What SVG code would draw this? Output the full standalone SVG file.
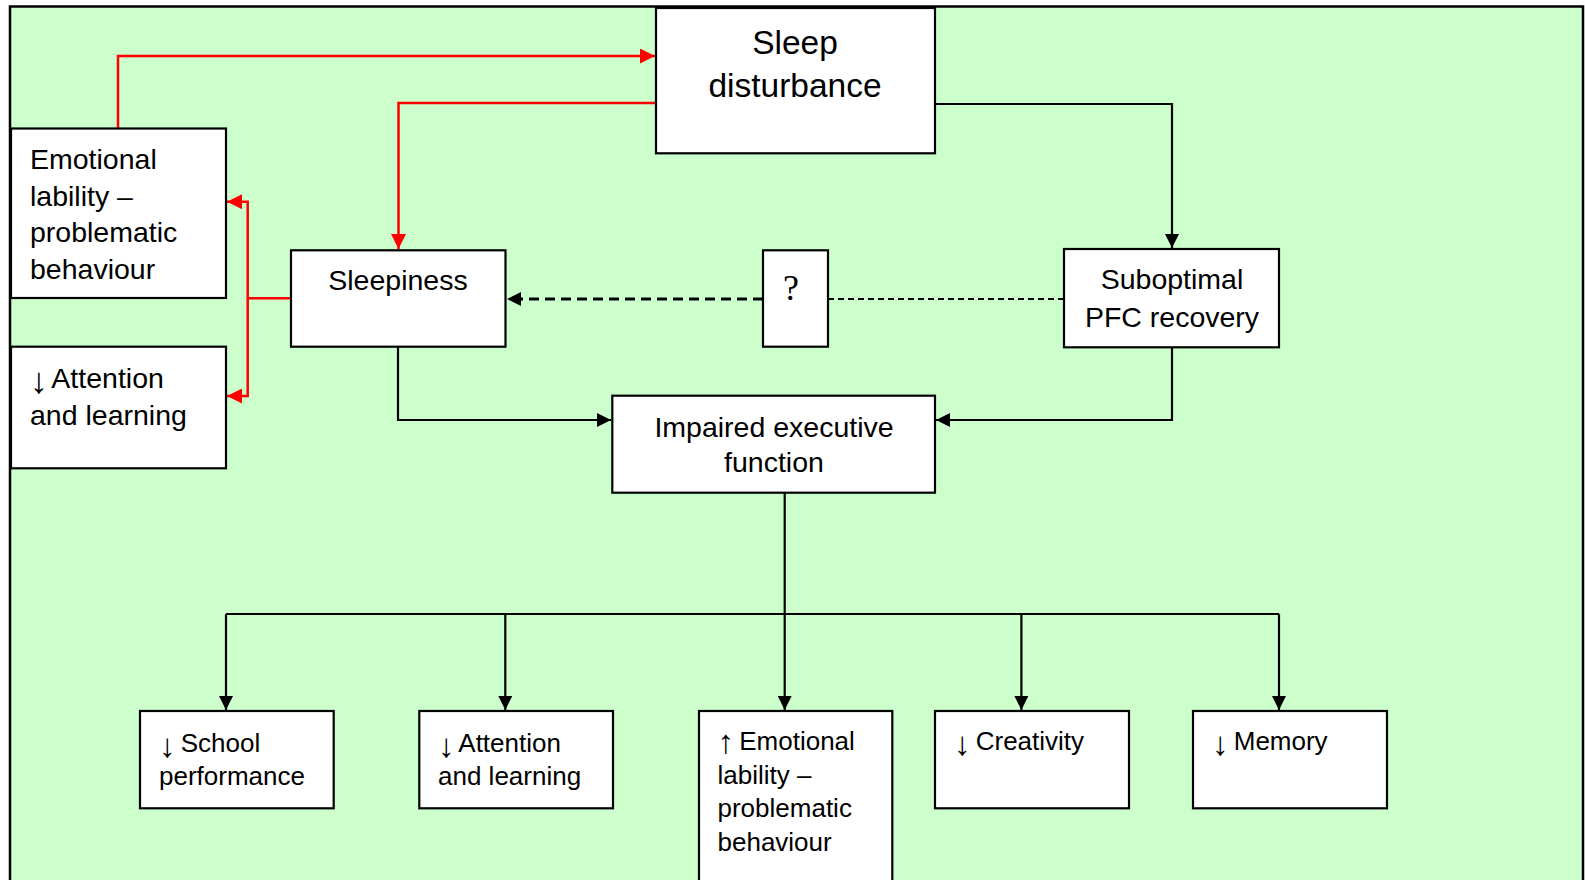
<svg xmlns="http://www.w3.org/2000/svg" width="1585" height="880" viewBox="0 0 1585 880">
<style>
.box{fill:#ffffff;stroke:#000000;stroke-width:2.2}
.t{font-family:"Liberation Sans",Arial,sans-serif;font-size:28.5px;fill:#000000}
.tb{font-family:"Liberation Sans",Arial,sans-serif;font-size:33.5px;fill:#000000}
.ts{font-family:"Liberation Sans",Arial,sans-serif;font-size:26px;fill:#000000}
.q{font-family:"Liberation Serif","Times New Roman",serif;font-size:36px;fill:#000000}
.ar{font-family:"Liberation Serif","Times New Roman",serif}
.c{text-anchor:middle}
.blk{fill:none;stroke:#000000;stroke-width:2.2}
.red{fill:none;stroke:#ff0000;stroke-width:2.5}
.dash{fill:none;stroke:#000000;stroke-width:3;stroke-dasharray:10 6}
.dot{fill:none;stroke:#000000;stroke-width:2;stroke-dasharray:6 4}
</style>
<defs>
<marker id="ab" markerUnits="userSpaceOnUse" markerWidth="14" markerHeight="14" refX="14" refY="7" orient="auto">
<path d="M0,0 L14,7 L0,14 z" fill="#000000"/>
</marker>
<marker id="ar" markerUnits="userSpaceOnUse" markerWidth="15" markerHeight="15" refX="15" refY="7.5" orient="auto">
<path d="M0,0 L15,7.5 L0,15 z" fill="#ff0000"/>
</marker>
</defs>
<rect x="0" y="0" width="1585" height="880" fill="#ffffff"/>
<rect x="10" y="6.5" width="1573" height="880" fill="#ccffcc" stroke="#000000" stroke-width="2.5"/>
<g id="connectors">
<path class="red" d="M118,128 V56 H655" marker-end="url(#ar)"/>
<path class="red" d="M656,103 H398.5 V249" marker-end="url(#ar)"/>
<path class="red" d="M291,298.3 H247.7"/>
<path class="red" d="M247.7,298.3 V201.7 H227" marker-end="url(#ar)"/>
<path class="red" d="M247.7,298.3 V396 H227" marker-end="url(#ar)"/>
<path class="blk" d="M935,104 H1172 V248" marker-end="url(#ab)"/>
<path class="dash" d="M763,299 H507" marker-end="url(#ab)"/>
<path class="dot" d="M1064,299 H828"/>
<path class="blk" d="M398,347 V420 H611" marker-end="url(#ab)"/>
<path class="blk" d="M1172,347 V420 H936" marker-end="url(#ab)"/>
<path class="blk" d="M784.7,493 V710" marker-end="url(#ab)"/>
<path class="blk" d="M226,614 H1279"/>
<path class="blk" d="M226,614 V710" marker-end="url(#ab)"/>
<path class="blk" d="M505.3,614 V710" marker-end="url(#ab)"/>
<path class="blk" d="M1021.4,614 V710" marker-end="url(#ab)"/>
<path class="blk" d="M1279,614 V710" marker-end="url(#ab)"/>
</g>
<g id="sleep-disturbance">
<rect class="box" x="656" y="8" width="279" height="145.3"/>
<text class="tb c" x="795" y="54">Sleep</text>
<text class="tb c" x="795" y="97">disturbance</text>
</g>
<g id="emotional-lability-left">
<rect class="box" x="11" y="128.5" width="215" height="169.5"/>
<text class="t" x="30" y="169">Emotional</text>
<text class="t" x="30" y="205.5">lability –</text>
<text class="t" x="30" y="242">problematic</text>
<text class="t" x="30" y="278.5">behaviour</text>
</g>
<g id="attention-left">
<rect class="box" x="11" y="346.7" width="215" height="121.6"/>
<text class="t" x="30" y="388"><tspan class="ar" font-size="36" dy="5">↓</tspan><tspan dy="-5" dx="-3"> Attention</tspan></text>
<text class="t" x="30" y="425">and learning</text>
</g>
<g id="sleepiness">
<rect class="box" x="291" y="250.3" width="214.5" height="96.4"/>
<text class="t c" x="398" y="290">Sleepiness</text>
</g>
<g id="question">
<rect class="box" x="763" y="250.3" width="65" height="96.4"/>
<text class="q c" x="791" y="300">?</text>
</g>
<g id="suboptimal-pfc">
<rect class="box" x="1064" y="249" width="215" height="98.3"/>
<text class="t c" x="1172" y="289.3">Suboptimal</text>
<text class="t c" x="1172" y="326.7">PFC recovery</text>
</g>
<g id="impaired-executive">
<rect class="box" x="612.3" y="395.7" width="322.7" height="97"/>
<text class="t c" x="774" y="436.7">Impaired executive</text>
<text class="t c" x="774" y="472.3">function</text>
</g>
<g id="school">
<rect class="box" x="140" y="711" width="193.7" height="97.3"/>
<text class="ts" x="159" y="751.7"><tspan class="ar" font-size="33" dy="5">↓</tspan><tspan dy="-5" dx="-2"> School</tspan></text>
<text class="ts" x="159" y="785">performance</text>
</g>
<g id="attention-bottom">
<rect class="box" x="419.3" y="711" width="193.7" height="97.3"/>
<text class="ts" x="438" y="751.7"><tspan class="ar" font-size="33" dy="5">↓</tspan><tspan dy="-5" dx="-2"> Attention</tspan></text>
<text class="ts" x="438" y="785">and learning</text>
</g>
<g id="emotional-bottom">
<rect class="box" x="699" y="711" width="193.3" height="180"/>
<text class="ts" x="717.5" y="749.5"><tspan class="ar" font-size="33" dy="3">↑</tspan><tspan dy="-3" dx="-2"> Emotional</tspan></text>
<text class="ts" x="717.5" y="783.5">lability –</text>
<text class="ts" x="717.5" y="817">problematic</text>
<text class="ts" x="717.5" y="850.5">behaviour</text>
</g>
<g id="creativity">
<rect class="box" x="935" y="711" width="194" height="97.3"/>
<text class="ts" x="954" y="750"><tspan class="ar" font-size="33" dy="5">↓</tspan><tspan dy="-5" dx="-2"> Creativity</tspan></text>
</g>
<g id="memory">
<rect class="box" x="1193" y="711" width="194" height="97.3"/>
<text class="ts" x="1212" y="750"><tspan class="ar" font-size="33" dy="5">↓</tspan><tspan dy="-5" dx="-2"> Memory</tspan></text>
</g>
</svg>
